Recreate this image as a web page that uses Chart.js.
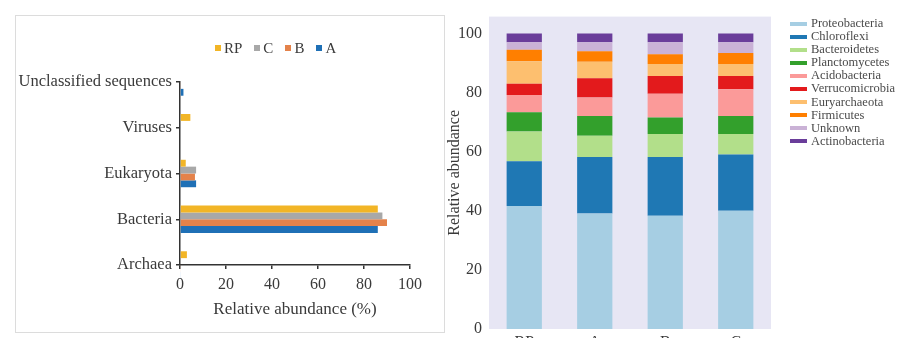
<!DOCTYPE html>
<html>
<head>
<meta charset="utf-8">
<script src="https://cdn.jsdelivr.net/npm/chart.js@4.4.1/dist/chart.umd.min.js"></script>
<style>
  html, body { margin: 0; padding: 0; background: #fff; width: 899px; height: 338px; overflow: hidden; }
  body { position: relative; font-family: 'Liberation Serif', 'Times New Roman', serif; color: #3a3a3a; }
  #domainBox { position: absolute; left: 15px; top: 15px; width: 428px; height: 316px; border: 1px solid #dcdcdc; }
  #domainBox canvas, #phylumBox canvas { position: absolute; left: 0; top: 0; }
  #phylumBox { position: absolute; left: 440px; top: 0; width: 459px; height: 360px; }
  #domainLegend { position: absolute; left: 215px; top: 39px; display: flex; font-size: 15px; line-height: 18px; }
  #domainLegend .item { display: flex; align-items: center; margin-right: 12px; }
  #domainLegend .sw { width: 6px; height: 6px; margin-right: 3px; }
  #phylumLegend { position: absolute; left: 790px; top: 17px; font-size: 12.5px; line-height: 13.1px; color: #4a4a4a; }
  #phylumLegend .item { display: flex; align-items: center; height: 13.1px; white-space: nowrap; }
  #phylumLegend .sw { width: 17px; height: 4px; margin-right: 4px; }
</style>
</head>
<body>
<div id="domainBox"><canvas id="domainChart" width="428" height="316"></canvas></div>
<div id="domainLegend"></div>
<div id="phylumBox"><canvas id="phylumChart" width="459" height="360"></canvas></div>
<div id="phylumLegend"></div>

<script>
// domain level, relative abundance (%)
const domains = ['Unclassified sequences', 'Viruses', 'Eukaryota', 'Bacteria', 'Archaea'];
const domainRP = [0, 4.5, 2.5, 86, 3];
const domainC = [0, 0, 7, 88, 0.3];
const domainB = [0.3, 0, 6.5, 90, 0.3];
const domainA = [1.5, 0, 7, 86, 0.3];
const domainTicks = [0, 20, 40, 60, 80, 100];

// phylum level, stacked per sample
const samples = ['RP', 'A', 'B', 'C'];
const phyla = ['Proteobacteria', 'Chloroflexi', 'Bacteroidetes', 'Planctomycetes', 'Acidobacteria',
  'Verrucomicrobia', 'Euryarchaeota', 'Firmicutes', 'Unknown', 'Actinobacteria'];
const proteobacteria = [41.6, 39.1, 38.3, 40.0];
const chloroflexi = [15.2, 19.1, 19.9, 19.0];
const bacteroidetes = [10.0, 7.2, 7.8, 7.0];
const planctomycetes = [6.5, 6.7, 5.6, 6.1];
const acidobacteria = [5.9, 6.2, 8.0, 9.0];
const verrucomicrobia = [3.8, 6.5, 6.0, 4.5];
const euryarchaeota = [7.6, 5.6, 4.1, 4.1];
const firmicutes = [3.9, 3.6, 3.3, 3.7];
const unknown = [2.5, 3.0, 4.0, 3.6];
const actinobacteria = [3.0, 3.0, 3.0, 3.0];
const phylumTicks = [0, 20, 40, 60, 80, 100];

const ink = '#3a3a3a';
const serif = "'Liberation Serif', 'Times New Roman', serif";

// fills the plot area before the bars go on
const plotBackground = {
  id: 'plotBackground',
  beforeDraw(chart, args, opts) {
    if (!opts.color) return;
    const { ctx, chartArea: a } = chart;
    ctx.save();
    ctx.fillStyle = opts.color;
    ctx.fillRect(a.left, a.top, a.right - a.left, a.bottom - a.top);
    ctx.restore();
  }
};

function buildLegend(el, datasets, order) {
  el.innerHTML = '';
  order.forEach(i => {
    const ds = datasets[i];
    const item = document.createElement('div');
    item.className = 'item';
    const sw = document.createElement('span');
    sw.className = 'sw';
    sw.style.background = ds.backgroundColor;
    const txt = document.createElement('span');
    txt.textContent = ds.label;
    item.appendChild(sw);
    item.appendChild(txt);
    el.appendChild(item);
  });
}

const domainData = {
  labels: domains,
  datasets: [
    { label: 'RP', data: domainRP, backgroundColor: '#f2b526' },
    { label: 'C', data: domainC, backgroundColor: '#a8a8a8' },
    { label: 'B', data: domainB, backgroundColor: '#e4824a' },
    { label: 'A', data: domainA, backgroundColor: '#1f70b6' }
  ]
};
domainData.datasets.forEach(ds => { ds.clip = false; });

const domainChart = new Chart(document.getElementById('domainChart'), {
  type: 'bar',
  data: domainData,
  options: {
    responsive: false,
    animation: false,
    indexAxis: 'y',
    layout: { padding: { top: 66, right: 34, bottom: 5, left: 0 } },
    datasets: { bar: { barPercentage: 1, categoryPercentage: 0.6 } },
    plugins: { legend: { display: false }, tooltip: { enabled: false } },
    scales: {
      x: {
        type: 'linear', min: 0, max: 100,
        afterBuildTicks: s => { s.ticks = domainTicks.map(v => ({ value: v })); },
        ticks: { font: { family: serif, size: 16 }, color: ink, padding: 6 },
        grid: { drawOnChartArea: false, tickLength: 4, color: '#333', lineWidth: 1.5 },
        border: { color: '#333', width: 1.5 },
        title: { display: true, text: 'Relative abundance (%)', color: ink,
          font: { family: serif, size: 17 }, padding: { top: 0, bottom: 7 } },
        afterFit: s => { s.height = 62; }
      },
      y: {
        type: 'category', offset: false,
        ticks: { font: { family: serif, size: 16.5 }, color: ink, padding: 4, autoSkip: false },
        grid: { offset: false, drawOnChartArea: false, tickLength: 4, color: '#333', lineWidth: 1.5 },
        border: { color: '#333', width: 1.5 },
        afterFit: s => { s.width = 164; }
      }
    }
  }
});
buildLegend(document.getElementById('domainLegend'), domainData.datasets, [0, 1, 2, 3]);

const phylumSeries = [proteobacteria, chloroflexi, bacteroidetes, planctomycetes, acidobacteria,
  verrucomicrobia, euryarchaeota, firmicutes, unknown, actinobacteria];
const phylumColors = ['#a6cee3', '#1f78b4', '#b2df8a', '#33a02c', '#fb9a99',
  '#e31a1c', '#fdbf6f', '#ff7f00', '#cab2d6', '#6a3d9a'];

const phylumData = {
  labels: samples,
  datasets: phyla.map((name, i) => ({
    label: name,
    data: phylumSeries[i],
    backgroundColor: phylumColors[i]
  }))
};

const phylumChart = new Chart(document.getElementById('phylumChart'), {
  type: 'bar',
  data: phylumData,
  plugins: [plotBackground],
  options: {
    responsive: false,
    animation: false,
    layout: { padding: { top: 15, right: 128, bottom: 0, left: 0 } },
    datasets: { bar: { barPercentage: 1, categoryPercentage: 0.5 } },
    plugins: {
      legend: { display: false },
      tooltip: { enabled: false },
      plotBackground: { color: '#e7e6f4' }
    },
    scales: {
      x: {
        stacked: true,
        grid: { display: false, drawTicks: false },
        border: { display: false },
        ticks: { font: { family: serif, size: 16 }, color: ink, padding: 4 },
        afterFit: s => { s.height = 31; }
      },
      y: {
        stacked: true, min: 0, max: 105.7,
        afterBuildTicks: s => { s.ticks = phylumTicks.map(v => ({ value: v })); },
        grid: { display: false, drawTicks: false },
        border: { display: false },
        ticks: { font: { family: serif, size: 16 }, color: ink, padding: 7 },
        title: { display: true, text: 'Relative abundance', color: ink,
          font: { family: serif, size: 16 }, padding: { top: 5, bottom: 0 } },
        afterFit: s => { s.width = 49; }
      }
    }
  }
});
buildLegend(document.getElementById('phylumLegend'), phylumData.datasets, phyla.map((_, i) => i));
</script>
</body>
</html>
